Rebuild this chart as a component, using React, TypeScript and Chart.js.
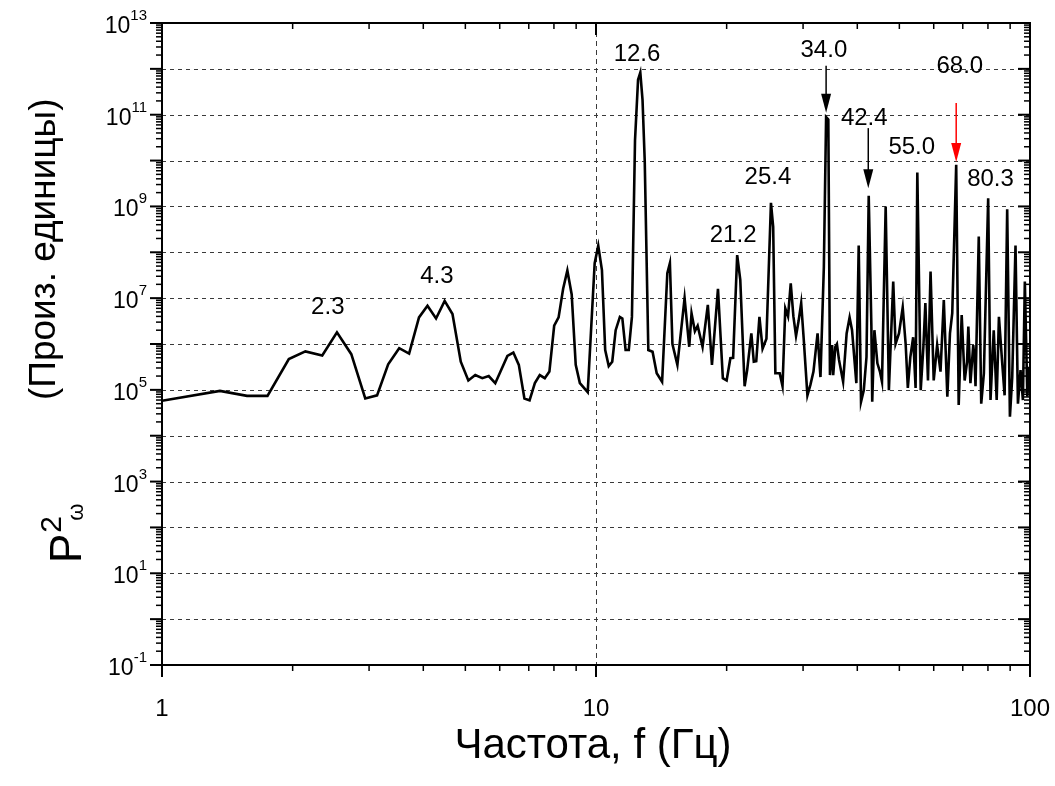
import React, { useEffect, useRef } from "react";
import { Chart, registerables } from "chart.js";

Chart.register(...registerables);

// Frequency samples (Hz)
const freqHz = [
  1.0, 1.36, 1.57, 1.75, 1.96, 2.14, 2.34, 2.53, 2.73, 2.94, 3.13, 3.32, 3.52, 3.71, 3.91, 4.09, 4.28, 4.48, 4.67, 4.88,
  5.08, 5.27, 5.47, 5.66, 5.86, 6.25, 6.45, 6.64, 6.84, 7.03, 7.23, 7.42, 7.62, 7.81, 8.01, 8.2, 8.4, 8.59, 8.79, 8.98,
  9.18, 9.57, 9.93, 10.12, 10.32, 10.5, 10.7, 10.9, 11.1, 11.35, 11.5, 11.7, 11.9, 12.1, 12.3, 12.5, 12.65, 12.8, 12.95,
  13.2, 13.5, 13.8, 14.2, 14.6, 14.8, 15.0, 15.4, 16.0, 16.4, 16.6, 16.9, 17.15, 17.6, 18.1, 18.5, 19.1, 19.6, 20.0,
  20.4, 20.7, 21.15, 21.5, 22.0, 22.3, 22.8, 23.1, 23.4, 23.8, 24.2, 24.7, 25.3, 25.6, 25.9, 26.5, 26.9, 27.3, 27.7,
  28.1, 28.5, 28.9, 29.3, 29.7, 30.1, 30.7, 31.2, 31.7, 32.4, 32.9, 33.5, 33.9, 34.3, 34.6, 35.0, 35.2, 35.6, 35.9,
  36.3, 37.1, 37.8, 38.4, 38.9, 39.8, 40.3, 40.8, 41.4, 42.0, 42.5, 43.1, 43.3, 43.8, 44.5, 45.1, 45.6, 46.5, 47.3,
  48.4, 49.0, 49.9, 50.9, 51.7, 52.3, 53.0, 53.8, 54.5, 55.0, 56.0, 56.8, 57.4, 58.2, 59.0, 60.0, 61.1, 62.2, 63.3,
  64.5, 65.4, 66.2, 67.6, 68.5, 69.6, 70.7, 71.6, 72.1, 72.9, 74.0, 74.5, 74.9, 76.2, 77.2, 78.3, 80.1, 81.1, 82.5,
  83.8, 84.8, 86.3, 87.4, 88.6, 89.9, 91.0, 92.6, 93.8, 95.1, 96.3, 97.3, 98.6, 99.4, 100.0,
];

// Power spectrum P²ω (arbitrary units)
const power = [
  5.8e4, 9.5e4, 7.4e4, 7.4e4, 4.7e5, 6.9e5, 5.6e5, 1.8e6, 6.0e5, 6.5e4, 7.6e4, 3.6e5, 8.1e5, 6.2e5, 3.8e6, 6.8e6, 3.6e6, 8.7e6, 4.5e6, 4.1e5,
  1.6e5, 2.1e5, 1.8e5, 2.0e5, 1.4e5, 5.5e5, 6.5e5, 3.5e5, 6.5e4, 5.9e4, 1.4e5, 2.1e5, 1.8e5, 2.5e5, 2.5e6, 3.8e6, 1.6e7, 4.0e7, 1.2e7, 3.5e5,
  1.4e5, 8.9e4, 5.8e7, 1.4e8, 4.1e7, 7.4e5, 3.3e5, 4.1e5, 2.0e6, 3.9e6, 3.6e6, 7.4e5, 7.4e5, 3.9e6, 2.8e10, 5.8e11, 8.3e11, 2.1e11, 1.0e10,
  7.4e5, 6.8e5, 2.3e5, 1.5e5, 3.5e7, 5.8e7, 1.0e6, 3.5e5, 1.0e7, 8.7e5, 4.7e6, 1.9e6, 2.5e6, 8.7e5, 7.1e6, 3.5e5, 1.6e7, 1.8e5, 1.6e5,
  4.9e5, 5.0e5, 8.7e7, 2.5e7, 1.2e5, 2.7e5, 1.7e6, 4.1e5, 4.2e5, 3.9e6, 7.9e5, 1.3e6, 1.2e9, 3.6e8, 2.3e5, 2.3e5, 1.2e5, 6.0e6, 4.0e6,
  2.1e7, 4.0e6, 1.5e6, 3.2e6, 7.8e6, 1.3e6, 7.6e4, 1.3e5, 2.5e5, 1.7e6, 1.9e5, 4.9e7, 8.9e10, 7.9e10, 2.1e5, 9.5e5, 2.1e5, 8.7e5, 1.0e6,
  4.5e5, 1.5e5, 1.7e6, 3.8e6, 2.0e6, 1.4e5, 1.4e8, 5.5e4, 9.8e4, 5.2e5, 1.7e9, 2.5e6, 5.5e4, 2.0e6, 3.8e5, 2.5e5, 1.5e5, 1.0e9, 9.8e4,
  2.3e7, 1.0e6, 1.7e6, 6.3e6, 1.0e6, 1.1e5, 5.2e5, 1.4e6, 1.1e5, 5.5e9, 9.8e4, 8.7e5, 7.8e6, 1.6e5, 3.8e7, 1.6e5, 9.5e5, 2.5e5, 9.1e6,
  7.1e4, 1.7e6, 4.7e6, 8.1e9, 4.7e4, 4.3e6, 1.6e5, 4.0e5, 2.4e6, 1.4e5, 9.5e5, 5.0e5, 1.2e5, 2.2e8, 5.0e4, 2.3e5, 1.5e9, 6.0e4, 2.0e6,
  6.0e4, 3.9e6, 3.8e5, 7.6e4, 8.7e8, 2.6e4, 1.9e5, 1.4e8, 5.0e4, 2.7e5, 6.0e4, 2.3e7, 7.1e4, 3.2e5, 1.0e5,
];

// Peak annotations: text, anchor frequency, baseline value
const peakLabels = ["2.3", "4.3", "12.6", "21.2", "25.4", "34.0", "42.4", "55.0", "68.0", "80.3"];
const peakLabelFreq = [2.41, 4.3, 12.43, 20.7, 24.9, 33.5, 41.5, 53.4, 68.9, 81.1];
const peakLabelValue = [4.4e6, 2.1e7, 1.5e12, 1.7e8, 3.1e9, 1.8e12, 6.0e10, 1.4e10, 8.1e11, 2.8e9];

// Arrows: frequency, start value, tip value, colour
const arrowFreq = [33.9, 42.4, 67.6];
const arrowFrom = [1.17e12, 5.1e10, 1.8e11];
const arrowTo = [1.1e11, 2.5e9, 9.3e9];
const arrowColor = ["#000000", "#000000", "#ff0000"];

// Axis ticks
const xTickValues = [1, 10, 100];
const xTickLabels = ["1", "10", "100"];
const yLabelExponents = [13, 11, 9, 7, 5, 3, 1, -1];
const yGridExponents = [12, 11, 10, 9, 8, 7, 6, 5, 4, 3, 2, 1, 0];
const xGridValues = [10];

const xTitle = "Частота, f (Гц)";
const yTitleMain = "P";
const yTitleSup = "2";
const yTitleSub = "ω";
const yTitleRest = "(Произ. единицы)";

const FONT = '"Liberation Sans", Arial, sans-serif';

const decorPlugin = {
  id: "decor",
  beforeDatasetsDraw(chart: any) {
    const { ctx, chartArea: a, scales } = chart;
    const xs = scales.x;
    const ys = scales.y;
    ctx.save();
    ctx.strokeStyle = "#3a3a3a";
    ctx.lineWidth = 1;
    ctx.setLineDash([4, 4]);
    for (const e of yGridExponents) {
      const y = Math.round(ys.getPixelForValue(Math.pow(10, e))) + 0.5;
      ctx.beginPath();
      ctx.moveTo(a.left, y);
      ctx.lineTo(a.right, y);
      ctx.stroke();
    }
    ctx.setLineDash([5, 4]);
    for (const v of xGridValues) {
      const x = Math.round(xs.getPixelForValue(v)) + 0.5;
      ctx.beginPath();
      ctx.moveTo(x, a.top);
      ctx.lineTo(x, a.bottom);
      ctx.stroke();
    }
    ctx.restore();
  },
  afterDatasetsDraw(chart: any) {
    const { ctx, chartArea: a, scales } = chart;
    const xs = scales.x;
    const ys = scales.y;
    ctx.save();
    ctx.setLineDash([]);
    ctx.strokeStyle = "#000";
    ctx.fillStyle = "#000";

    // ticks: left/bottom outward, right/top inward
    const majorLen = 12;
    const minorLen = 6;
    const drawTick = (x1: number, y1: number, x2: number, y2: number, w: number) => {
      ctx.lineWidth = w;
      ctx.beginPath();
      ctx.moveTo(x1, y1);
      ctx.lineTo(x2, y2);
      ctx.stroke();
    };
    for (let e = -1; e <= 13; e++) {
      for (let m = 1; m <= 9; m++) {
        if (e === 13 && m > 1) break;
        const v = m * Math.pow(10, e);
        const y = ys.getPixelForValue(v);
        const len = m === 1 ? majorLen : minorLen;
        const w = m === 1 ? 2 : 1.5;
        drawTick(a.left - len, y, a.left, y, w);
        drawTick(a.right, y, a.right - len, y, w);
      }
    }
    for (let e = 0; e <= 2; e++) {
      for (let m = 1; m <= 9; m++) {
        if (e === 2 && m > 1) break;
        const v = m * Math.pow(10, e);
        const x = xs.getPixelForValue(v);
        const len = m === 1 ? majorLen : minorLen;
        const w = m === 1 ? 2 : 1.5;
        drawTick(x, a.bottom, x, a.bottom + len, w);
        drawTick(x, a.top, x, a.top + len, w);
      }
    }

    // frame
    ctx.lineWidth = 2;
    ctx.strokeRect(a.left, a.top, a.right - a.left, a.bottom - a.top);

    // y tick labels
    ctx.textBaseline = "alphabetic";
    for (const e of yLabelExponents) {
      const y = ys.getPixelForValue(Math.pow(10, e));
      const supText = e < 0 ? "-" + Math.abs(e) : String(e);
      ctx.font = `15px ${FONT}`;
      const supW = ctx.measureText(supText).width;
      const right = a.left - 15;
      ctx.textAlign = "left";
      ctx.fillText(supText, right - supW, y - 3);
      ctx.font = `23px ${FONT}`;
      ctx.textAlign = "right";
      ctx.fillText("10", right - supW, y + 10);
    }

    // x tick labels
    ctx.font = `24px ${FONT}`;
    ctx.textAlign = "center";
    xTickValues.forEach((v, i) => {
      ctx.fillText(xTickLabels[i], xs.getPixelForValue(v), a.bottom + 51);
    });

    // x title
    ctx.font = `42px ${FONT}`;
    ctx.fillText(xTitle, (a.left + a.right) / 2 - 3, 758);

    // y title (rotated)
    ctx.save();
    ctx.rotate(-Math.PI / 2);
    ctx.textAlign = "left";
    const base = 81;
    let u = -563;
    ctx.font = `44px ${FONT}`;
    ctx.fillText(yTitleMain, u, base);
    u += ctx.measureText(yTitleMain).width + 1;
    ctx.font = `30px ${FONT}`;
    ctx.fillText(yTitleSup, u, base - 20);
    ctx.font = `22px ${FONT}`;
    ctx.fillText(yTitleSub, u + 12, base + 2);
    ctx.font = `37px ${FONT}`;
    ctx.fillText(yTitleRest, -400, 55);
    ctx.restore();

    // peak labels
    ctx.font = `24px ${FONT}`;
    ctx.textAlign = "center";
    peakLabels.forEach((t, i) => {
      ctx.fillText(t, xs.getPixelForValue(peakLabelFreq[i]), ys.getPixelForValue(peakLabelValue[i]));
    });

    // arrows
    arrowFreq.forEach((f, i) => {
      const x = xs.getPixelForValue(f);
      const y1 = ys.getPixelForValue(arrowFrom[i]);
      const y2 = ys.getPixelForValue(arrowTo[i]);
      ctx.strokeStyle = arrowColor[i];
      ctx.fillStyle = arrowColor[i];
      ctx.lineWidth = 1.5;
      ctx.beginPath();
      ctx.moveTo(x, y1);
      ctx.lineTo(x, y2 - 16);
      ctx.stroke();
      ctx.beginPath();
      ctx.moveTo(x - 5, y2 - 19);
      ctx.lineTo(x + 5, y2 - 19);
      ctx.lineTo(x, y2);
      ctx.closePath();
      ctx.fill();
    });
    ctx.restore();
  },
};

export default function App() {
  const ref = useRef<HTMLCanvasElement | null>(null);
  useEffect(() => {
    if (!ref.current) return;
    const chart = new Chart(ref.current, {
      type: "line",
      data: {
        datasets: [
          {
            data: freqHz.map((f, i) => ({ x: f, y: power[i] })),
            borderColor: "#000",
            borderWidth: 2.6,
            pointRadius: 0,
            tension: 0,
            fill: false,
          },
        ],
      },
      options: {
        animation: false,
        responsive: true,
        maintainAspectRatio: false,
        devicePixelRatio: 1,
        layout: { padding: { left: 162, right: 25, top: 23, bottom: 121 } },
        plugins: { legend: { display: false }, tooltip: { enabled: false } },
        scales: {
          x: { type: "logarithmic", min: 1, max: 100, display: false },
          y: { type: "logarithmic", min: 0.1, max: 1e13, display: false },
        },
      },
      plugins: [decorPlugin],
    });
    return () => chart.destroy();
  }, []);
  return (
    <div style={{ position: "absolute", left: 0, top: 0, width: 1055, height: 786, background: "#fff" }}>
      <canvas ref={ref} />
    </div>
  );
}
